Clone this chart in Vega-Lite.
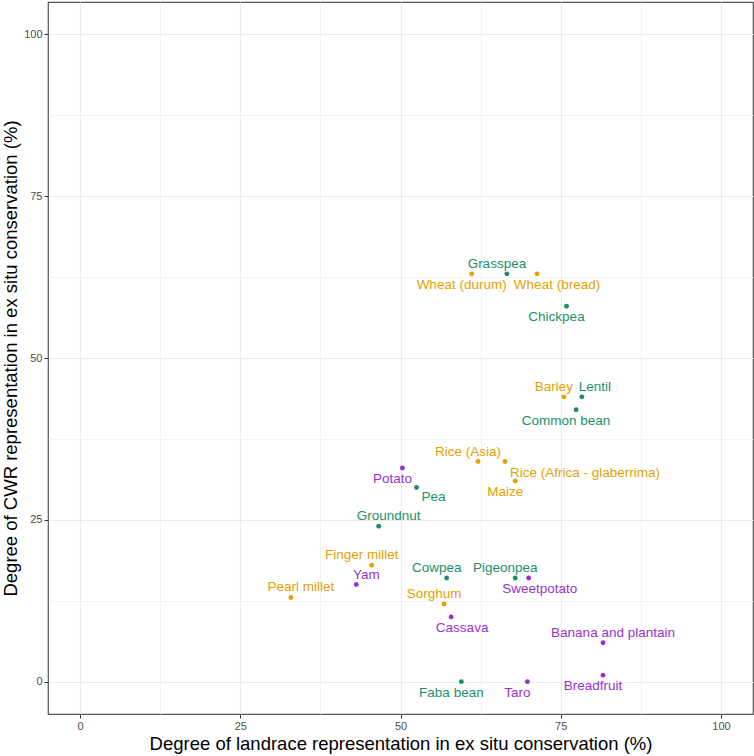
{
  "$schema": "https://vega.github.io/schema/vega-lite/v6.json",
  "autosize": "none",
  "padding": {"left": 48, "top": 2, "right": 1, "bottom": 42},
  "width": 705,
  "height": 712,
  "background": "white",
  "config": {
    "view": {"stroke": "#555555", "strokeWidth": 1.2},
    "font": "Liberation Sans",
    "text": {"font": "Liberation Sans", "fontSize": 13.5},
    "axis": {
      "domain": false,
      "labelColor": "#4D4D4D",
      "labelFontSize": 11,
      "labelFont": "Liberation Sans",
      "tickSize": 4,
      "labelPadding": 2,
      "titleFont": "Liberation Sans",
      "titleFontSize": 18.5,
      "titleFontWeight": "normal",
      "titleColor": "#000000"
    }
  },
  "data": {
    "values": [
      {"crop": "Grasspea", "landrace": 66.6, "cwr": 63, "group": "legume"},
      {"crop": "Wheat (durum)", "landrace": 61.1, "cwr": 63, "group": "cereal"},
      {"crop": "Wheat (bread)", "landrace": 71.3, "cwr": 63, "group": "cereal"},
      {"crop": "Chickpea", "landrace": 75.9, "cwr": 58, "group": "legume"},
      {"crop": "Barley", "landrace": 75.5, "cwr": 44, "group": "cereal"},
      {"crop": "Lentil", "landrace": 78.3, "cwr": 44, "group": "legume"},
      {"crop": "Common bean", "landrace": 77.4, "cwr": 42, "group": "legume"},
      {"crop": "Rice (Asia)", "landrace": 62.1, "cwr": 34, "group": "cereal"},
      {"crop": "Rice (Africa - glaberrima)", "landrace": 66.3, "cwr": 34, "group": "cereal"},
      {"crop": "Maize", "landrace": 67.9, "cwr": 31, "group": "cereal"},
      {"crop": "Potato", "landrace": 50.3, "cwr": 33, "group": "root"},
      {"crop": "Pea", "landrace": 52.5, "cwr": 30, "group": "legume"},
      {"crop": "Groundnut", "landrace": 46.6, "cwr": 24, "group": "legume"},
      {"crop": "Finger millet", "landrace": 45.5, "cwr": 18, "group": "cereal"},
      {"crop": "Yam", "landrace": 43.1, "cwr": 15, "group": "root"},
      {"crop": "Pearl millet", "landrace": 32.9, "cwr": 13, "group": "cereal"},
      {"crop": "Cowpea", "landrace": 57.2, "cwr": 16, "group": "legume"},
      {"crop": "Sorghum", "landrace": 56.8, "cwr": 12, "group": "cereal"},
      {"crop": "Cassava", "landrace": 57.9, "cwr": 10, "group": "root"},
      {"crop": "Pigeonpea", "landrace": 67.9, "cwr": 16, "group": "legume"},
      {"crop": "Sweetpotato", "landrace": 70.0, "cwr": 16, "group": "root"},
      {"crop": "Banana and plantain", "landrace": 81.6, "cwr": 6, "group": "root"},
      {"crop": "Breadfruit", "landrace": 81.6, "cwr": 1, "group": "root"},
      {"crop": "Taro", "landrace": 69.8, "cwr": 0, "group": "root"},
      {"crop": "Faba bean", "landrace": 59.5, "cwr": 0, "group": "legume"}
    ]
  },
  "encoding": {
    "x": {
      "field": "landrace",
      "type": "quantitative",
      "scale": {"domain": [-5, 105], "nice": false, "zero": false},
      "axis": {
        "title": "Degree of landrace representation in ex situ conservation (%)",
        "values": [0, 12.5, 25, 37.5, 50, 62.5, 75, 87.5, 100],
        "labelExpr": "datum.value % 25 == 0 ? format(datum.value, 'd') : ''",
        "gridColor": "#EBEBEB",
        "gridWidth": {"condition": {"test": "datum.value % 25 != 0", "value": 0.6}, "value": 1.1},
        "tickColor": {"condition": {"test": "datum.value % 25 != 0", "value": "transparent"}, "value": "#333333"},
        "titlePadding": 3
      }
    },
    "y": {
      "field": "cwr",
      "type": "quantitative",
      "scale": {"domain": [-5, 105], "nice": false, "zero": false},
      "axis": {
        "title": "Degree of CWR representation in ex situ conservation (%)",
        "values": [0, 12.5, 25, 37.5, 50, 62.5, 75, 87.5, 100],
        "labelExpr": "datum.value % 25 == 0 ? format(datum.value, 'd') : ''",
        "gridColor": "#EBEBEB",
        "gridWidth": {"condition": {"test": "datum.value % 25 != 0", "value": 0.6}, "value": 1.1},
        "tickColor": {"condition": {"test": "datum.value % 25 != 0", "value": "transparent"}, "value": "#333333"},
        "titlePadding": 3
      }
    },
    "color": {
      "field": "group",
      "type": "nominal",
      "scale": {"domain": ["cereal", "legume", "root"], "range": ["#E69F00", "#1B9068", "#9932CC"]},
      "legend": null
    },
    "text": {"field": "crop", "type": "nominal"}
  },
  "layer": [
    {"mark": {"type": "circle", "size": 24, "opacity": 1}},
    {
      "transform": [{"filter": {"field": "crop", "oneOf": ["Grasspea", "Barley", "Rice (Asia)", "Finger millet", "Cowpea", "Sorghum", "Pigeonpea"]}}],
      "mark": {"type": "text", "dx": -10, "dy": -10, "align": "center", "baseline": "middle"}
    },
    {
      "transform": [{"filter": {"field": "crop", "oneOf": ["Wheat (durum)", "Chickpea", "Common bean", "Maize", "Potato", "Breadfruit", "Taro", "Faba bean"]}}],
      "mark": {"type": "text", "dx": -10, "dy": 11, "align": "center", "baseline": "middle"}
    },
    {
      "transform": [{"filter": {"field": "crop", "oneOf": ["Groundnut", "Yam", "Pearl millet", "Banana and plantain"]}}],
      "mark": {"type": "text", "dx": 10, "dy": -10, "align": "center", "baseline": "middle"}
    },
    {
      "transform": [{"filter": {"field": "crop", "oneOf": ["Lentil"]}}],
      "mark": {"type": "text", "dx": 13, "dy": -10, "align": "center", "baseline": "middle"}
    },
    {
      "transform": [{"filter": {"field": "crop", "oneOf": ["Sweetpotato", "Cassava"]}}],
      "mark": {"type": "text", "dx": 11, "dy": 11, "align": "center", "baseline": "middle"}
    },
    {
      "transform": [{"filter": {"field": "crop", "oneOf": ["Pea"]}}],
      "mark": {"type": "text", "dx": 17, "dy": 10, "align": "center", "baseline": "middle"}
    },
    {
      "transform": [{"filter": {"field": "crop", "oneOf": ["Wheat (bread)"]}}],
      "mark": {"type": "text", "dx": 20, "dy": 11, "align": "center", "baseline": "middle"}
    },
    {
      "transform": [{"filter": {"field": "crop", "oneOf": ["Rice (Africa - glaberrima)"]}}],
      "mark": {"type": "text", "dx": 5, "dy": 11, "align": "left", "baseline": "middle"}
    }
  ]
}
